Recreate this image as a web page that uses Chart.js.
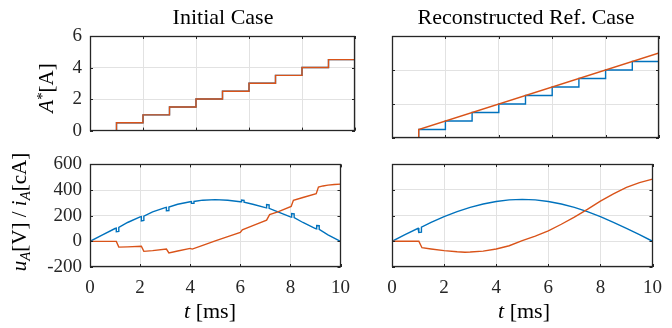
<!DOCTYPE html>
<html>
<head>
<meta charset="utf-8">
<script src="https://cdn.jsdelivr.net/npm/chart.js@4.4.0/dist/chart.umd.min.js"></script>
<style>
  body { margin:0; width:672px; height:328px; background:#fff; position:relative; overflow:hidden; font-family:"Liberation Serif", serif; }
  canvas { position:absolute; }
  .txt { position:absolute; white-space:nowrap; color:#000; line-height:1; }
  .title { font-size:22px; transform:translateX(-50%); }
  .ylab { font-size:21px; transform:translate(-50%,-50%) rotate(-90deg); }
  .xlab { font-size:22px; transform:translateX(-50%); }
  sub { font-size:0.7em; vertical-align:-0.25em; }
  sup { font-size:0.7em; vertical-align:0.45em; }
</style>
</head>
<body>
<canvas id="tl" width="360" height="150" style="left:0;top:0"></canvas>
<canvas id="tr" width="312" height="150" style="left:360px;top:0"></canvas>
<canvas id="bl" width="360" height="183" style="left:0;top:145px"></canvas>
<canvas id="br" width="312" height="183" style="left:360px;top:145px"></canvas>

<div class="txt title" style="left:223px;top:6px">Initial Case</div>
<div class="txt title" style="left:526px;top:6px">Reconstructed Ref. Case</div>
<div class="txt ylab" style="left:46px;top:88px"><i>A</i><sup>*</sup>[A]</div>
<div class="txt ylab" style="left:21px;top:212px"><i>u</i><sub><i>A</i></sub>[V] / <i>i</i><sub><i>A</i></sub>[cA]</div>
<div class="txt xlab" style="left:210px;top:300px"><i>t</i> [ms]</div>
<div class="txt xlab" style="left:524px;top:300px"><i>t</i> [ms]</div>

<script>
// top row: reference A* staircase (same in both cases)
const stepT = [0, 1, 2, 3, 4, 5, 6, 7, 8, 9, 10];
const stepA = [0, 0, 0.5, 1, 1.5, 2, 2.5, 3, 3.5, 4, 4.5];
// reconstructed reference ramp (top right, orange)
const rampT = [0, 1, 1, 10];
const rampA = [0, 0, 0.5, 5];

// bottom left: voltage u_A with notches at every step
const tUL = [0, 0.5, 1, 1.05, 1.05, 1.15, 1.15, 1.5, 2, 2.05, 2.05, 2.15, 2.15, 2.5, 3, 3.05, 3.05, 3.15, 3.15, 3.5,
             4, 4.05, 4.05, 4.15, 4.15, 4.5, 5, 5.5, 6, 6.05, 6.05, 6.15, 6.15, 6.5, 7, 7.05, 7.05, 7.15, 7.15, 7.5,
             8, 8.05, 8.05, 8.15, 8.15, 8.5, 9, 9.05, 9.05, 9.15, 9.15, 9.5, 10];
const uL = [0, 51, 100, 103, 75, 78, 108, 147, 191, 193, 160, 163, 197, 230, 263, 265, 238, 240, 268, 289,
            309, 310, 296, 297, 311, 321, 325, 321, 309, 308, 322, 320, 305, 289, 263, 261, 287, 285, 257, 230,
            191, 189, 217, 215, 185, 147, 100, 98, 124, 122, 93, 51, 0];
// bottom left: current i_A
const tIL = [0, 1.05, 1.15, 1.5, 2.05, 2.15, 2.5, 3.05, 3.15, 3.5, 4, 4.08, 4.5, 5, 5.5, 6, 6.08, 6.5,
             7.05, 7.17, 7.5, 8.03, 8.12, 8.5, 9.03, 9.12, 9.3, 9.5, 9.75, 10];
const iL = [0, 0, -45, -43, -38, -78, -72, -60, -90, -75, -55, -60, -32, 3, 37, 70, 90, 122,
            165, 208, 230, 272, 320, 342, 372, 423, 432, 438, 443, 446];

// bottom right: voltage u_A, one notch at the first step
const tUR = [0, 0.5, 1, 1.03, 1.03, 1.13, 1.13, 1.5, 2, 2.5, 3, 3.5, 4, 4.5, 5, 5.5, 6, 6.5, 7, 7.5, 8, 8.5, 9, 9.5, 10];
const uR = [0, 51, 100, 102, 68, 70, 110, 147, 191, 230, 263, 289, 309, 321, 325, 321, 309, 289, 263, 230, 191, 147, 100, 51, 0];
// bottom right: current i_A
const tIR = [0, 1.03, 1.15, 1.5, 2, 2.5, 2.8, 3, 3.5, 4, 4.5, 5, 5.5, 6, 6.5, 7, 7.5, 8, 8.5, 9, 9.5, 10];
const iR = [0, 0, -50, -60, -73, -82, -85, -84, -77, -60, -35, 5, 40, 80, 132, 188, 248, 312, 368, 418, 455, 482];

const xTicks = [0, 2, 4, 6, 8, 10];
const yTopTicks = [0, 2, 4, 6];
const yBotTicks = [-200, 0, 200, 400, 600];

const BLUE = '#0072BD';
const ORANGE = '#D95319';

function pts(xs, ys) {
    return xs.map((x, i) => ({ x: x, y: ys[i] }));
}

// axes box + small inward ticks on all four sides, like matlab
const boxPlugin = {
    id: 'box',
    afterDraw(chart) {
        const ctx = chart.ctx;
        const a = chart.chartArea;
        const sx = chart.scales.x, sy = chart.scales.y;
        ctx.save();
        ctx.strokeStyle = '#262626';
        ctx.lineWidth = 1;
        ctx.beginPath();
        xTicks.forEach(v => {
            const px = Math.round(sx.getPixelForValue(v)) + 0.5;
            ctx.moveTo(px, a.bottom); ctx.lineTo(px, a.bottom - 3);
            ctx.moveTo(px, a.top); ctx.lineTo(px, a.top + 3);
        });
        chart.options.myYTicks.forEach(v => {
            const py = Math.round(sy.getPixelForValue(v)) + 0.5;
            ctx.moveTo(a.left, py); ctx.lineTo(a.left + 3, py);
            ctx.moveTo(a.right, py); ctx.lineTo(a.right - 3, py);
        });
        ctx.stroke();
        ctx.lineWidth = 1.3;
        ctx.strokeRect(Math.round(a.left) + 0.5, Math.round(a.top) + 0.5, Math.round(a.width) - 1, Math.round(a.height) - 1);
        ctx.restore();
    }
};

function makeChart(id, cfg) {
    const tickFont = { family: 'Liberation Serif', size: 19 };
    new Chart(document.getElementById(id), {
        type: 'line',
        data: {
            datasets: [
                { data: pts(cfg.bx, cfg.by), borderColor: BLUE, borderWidth: 1.4, pointRadius: 0, stepped: cfg.bStep, order: 2 },
                { data: pts(cfg.ox, cfg.oy), borderColor: ORANGE, borderWidth: 1.4, pointRadius: 0, stepped: cfg.oStep, order: 1 }
            ]
        },
        options: {
            responsive: false,
            animation: false,
            myYTicks: cfg.yTicks,
            layout: { padding: cfg.pad },
            plugins: { legend: { display: false }, tooltip: { enabled: false } },
            scales: {
                x: {
                    type: 'linear', min: 0, max: 10,
                    afterBuildTicks: s => { s.ticks = xTicks.map(v => ({ value: v })); },
                    afterFit: s => { s.height = cfg.xh; },
                    grid: { color: '#e2e2e2', drawTicks: false },
                    border: { display: false },
                    ticks: { display: cfg.xLabels, autoSkip: false, padding: 10, color: '#262626', font: tickFont, maxRotation: 0 }
                },
                y: {
                    type: 'linear', min: cfg.yTicks[0], max: cfg.yTicks[cfg.yTicks.length - 1],
                    afterBuildTicks: s => { s.ticks = cfg.yTicks.map(v => ({ value: v })); },
                    afterFit: s => { s.width = cfg.yw; },
                    grid: { color: '#e2e2e2', drawTicks: false },
                    border: { display: false },
                    ticks: { display: cfg.yLabels, autoSkip: false, padding: 8, color: '#262626', font: tickFont }
                }
            }
        },
        plugins: [boxPlugin]
    });
}

makeChart('tl', { bx: stepT, by: stepA, ox: stepT, oy: stepA, bStep: 'after', oStep: 'after',
    yTicks: yTopTicks, pad: { top: 36, right: 5, bottom: 12, left: 0 }, xh: 0, yw: 90, xLabels: false, yLabels: true });
makeChart('tr', { bx: stepT, by: stepA, ox: rampT, oy: rampA, bStep: 'after', oStep: false,
    yTicks: yTopTicks, pad: { top: 36, right: 13, bottom: 12, left: 0 }, xh: 0, yw: 32, xLabels: false, yLabels: false });
makeChart('bl', { bx: tUL, by: uL, ox: tIL, oy: iL, bStep: false, oStep: false,
    yTicks: yBotTicks, pad: { top: 19, right: 5, bottom: 21, left: 0 }, xh: 40, yw: 90, xLabels: true, yLabels: true });
makeChart('br', { bx: tUR, by: uR, ox: tIR, oy: iR, bStep: false, oStep: false,
    yTicks: yBotTicks, pad: { top: 19, right: 13, bottom: 21, left: 0 }, xh: 40, yw: 32, xLabels: true, yLabels: false });
</script>
</body>
</html>
